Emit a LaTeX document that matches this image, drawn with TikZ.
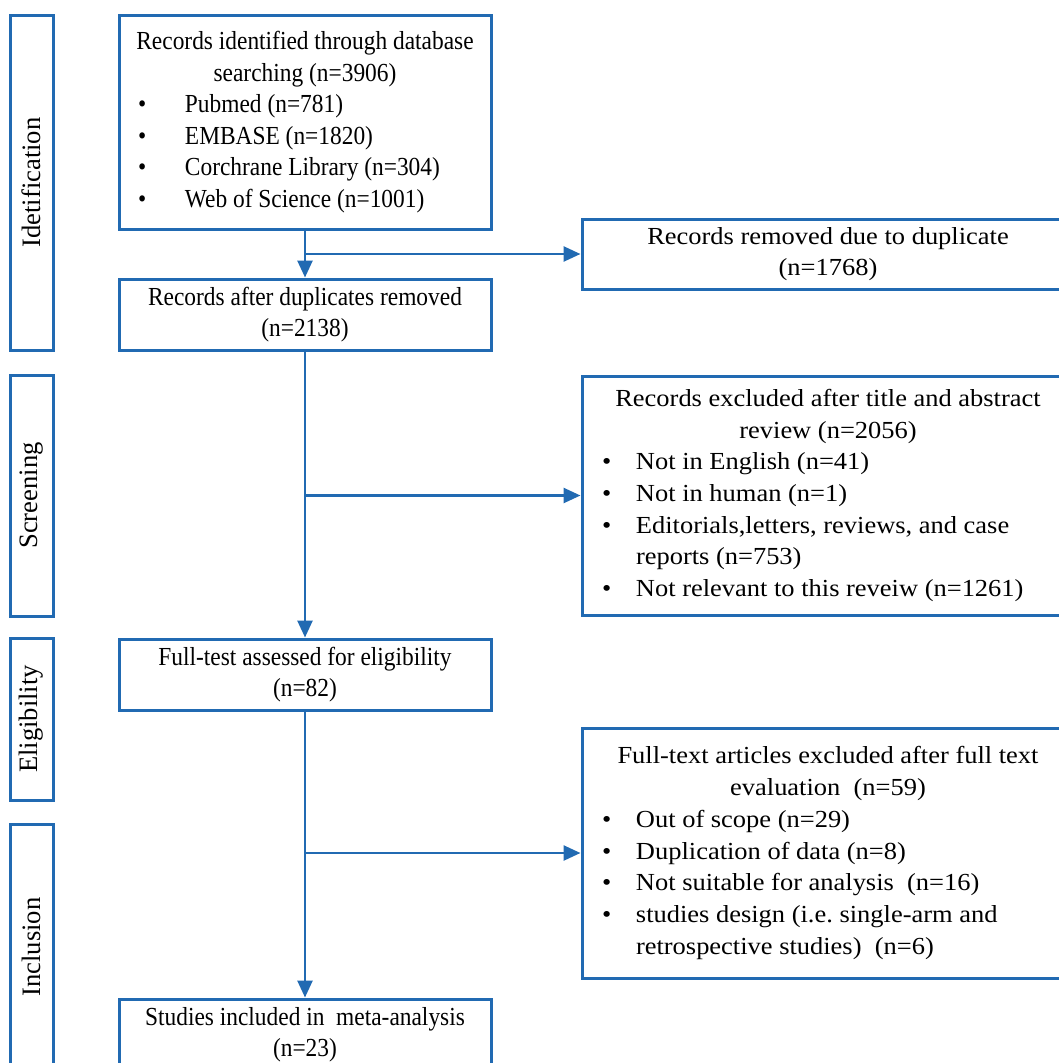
\documentclass[tikz,border=0pt]{standalone}
\usepackage{fontspec}
\setmainfont{Liberation Serif}
\newfontfamily\leftfam[FakeStretch=0.9]{Liberation Serif}
\newfontfamily\rightfam[FakeStretch=1.08]{Liberation Serif}
\usetikzlibrary{positioning, arrows.meta}
\definecolor{prismablue}{RGB}{33,106,178}

\newlength{\bulpos}
\newlength{\bulind}
\newcommand{\bul}[1]{\par\noindent\hangindent=\bulind\hangafter=1%
  \makebox[\bulind][l]{\hspace{\bulpos}\textbullet}#1}
\newcommand{\leftfont}{\leftfam\fontsize{26}{31.5}\selectfont\frenchspacing}
\newcommand{\rightfont}{\rightfam\fontsize{24.5}{31.7}\selectfont\frenchspacing}

\begin{document}
\begin{tikzpicture}[x=1pt, y=-1pt,
    >={Triangle[length=17pt, width=15pt]},
    stage/.style={draw=prismablue, line width=3pt, inner sep=0pt,
        minimum height=43pt, rotate=90,
        font=\fontsize{26.6}{30}\selectfont},
    flowbox/.style={draw=prismablue, line width=3pt, inner sep=0pt,
        minimum width=372pt, minimum height=71pt},
    exbox/.style={draw=prismablue, line width=3pt, inner sep=0pt,
        minimum width=492pt},
    conn/.style={draw=prismablue, line width=2.6pt}
    ]
    \useasboundingbox (0,0) rectangle (1059,1063);
    \clip (0,0) rectangle (1059,1063);

    % stages on the left
    \node [stage, minimum width=335pt] (ident) at (31.5,182.5) {Idetification};
    \node [stage, minimum width=241pt] (screen) at (31.5,495.5) {Screening};
    \node [stage, minimum width=162pt] (elig) at (31.5,719) {Eligibility};
    \node [stage, minimum width=246pt] (incl) at (31.5,947) {Inclusion};

    % main column
    \node [flowbox,
    minimum height=214pt
    ] (identified) at (305,122) {
        \begin{minipage}{372pt}\leftfont
            \setlength{\bulpos}{19pt}\setlength{\bulind}{66pt}
            {\centering Records identified through database\\
            searching (n=3906)\par}
            \bul{Pubmed (n=781)}
            \bul{EMBASE (n=1820)}
            \bul{Corchrane Library (n=304)}
            \bul{Web of Science (n=1001)}
        \end{minipage}
    };

    \node [flowbox] (nodup) at (305,314.5) {
        \begin{minipage}{372pt}\centering\leftfont
            Records after duplicates removed\\
            (n=2138)
        \end{minipage}
    };

    \node [flowbox,
    below=286pt of nodup
    ] (fulltest) {
        \begin{minipage}{372pt}\centering\leftfont
            Full-test assessed for eligibility\\
            (n=82)
        \end{minipage}
    };

    \node [flowbox,
    below=286pt of fulltest
    ] (included) {
        \begin{minipage}{372pt}\centering\leftfont
            Studies included in\ \ meta-analysis\\
            (n=23)
        \end{minipage}
    };

    % exclusions on the right
    \node [exbox,
    minimum height=70pt
    ] (removed) at (828,254) {
        \begin{minipage}{492pt}\centering\rightfont
            Records removed due to duplicate\\
            (n=1768)
        \end{minipage}
    };

    \node [exbox,
    minimum height=239pt
    ] (screenout) at (828,495.5) {
        \begin{minipage}{492pt}\rightfont
            \setlength{\bulpos}{20pt}\setlength{\bulind}{54pt}
            {\centering Records excluded after title and abstract\\
            review (n=2056)\par}
            \bul{Not in English (n=41)}
            \bul{Not in human (n=1)}
            \bul{Editorials,letters, reviews, and case\\
            reports (n=753)}
            \bul{Not relevant to this reveiw (n=1261)}
        \end{minipage}
    };

    \node [exbox,
    minimum height=250pt
    ] (fullout) at (828,853) {
        \begin{minipage}{492pt}\rightfont
            \setlength{\bulpos}{20pt}\setlength{\bulind}{54pt}
            {\centering Full-text articles excluded after full text\\
            evaluation\ \ (n=59)\par}
            \bul{Out of scope (n=29)}
            \bul{Duplication of data (n=8)}
            \bul{Not suitable for analysis\ \ (n=16)}
            \bul{studies design (i.e. single-arm and\\
            retrospective studies)\ \ (n=6)}
        \end{minipage}
    };

    % connectors
    \draw [conn, ->] (identified) -- (nodup);
    \draw [conn, ->] (identified.south |- removed.west) -- (removed.west);

    \draw [conn, ->] (nodup) -- (fulltest);
    \draw [conn, ->] (nodup.south |- screenout.west) -- (screenout.west);

    \draw [conn, ->] (fulltest) -- (included);
    \draw [conn, ->] (fulltest.south |- fullout.west) -- (fullout.west);
\end{tikzpicture}
\end{document}
